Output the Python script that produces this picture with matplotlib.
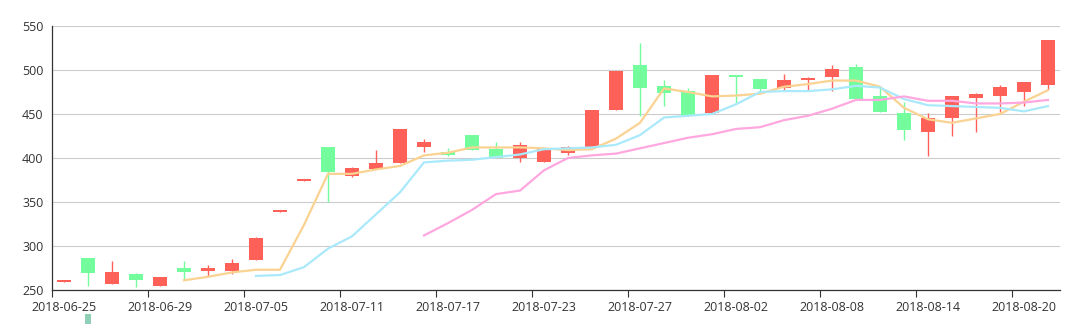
import matplotlib
matplotlib.use("Agg")
import matplotlib.pyplot as plt
import numpy as np

# trading days, 2018-06-25 .. 2018-08-21
dates = [
    "2018-06-25", "2018-06-26", "2018-06-27", "2018-06-28", "2018-06-29",
    "2018-07-02", "2018-07-03", "2018-07-04", "2018-07-05", "2018-07-06",
    "2018-07-09", "2018-07-10", "2018-07-11", "2018-07-12", "2018-07-13",
    "2018-07-16", "2018-07-17", "2018-07-18", "2018-07-19", "2018-07-20",
    "2018-07-23", "2018-07-24", "2018-07-25", "2018-07-26", "2018-07-27",
    "2018-07-30", "2018-07-31", "2018-08-01", "2018-08-02", "2018-08-03",
    "2018-08-06", "2018-08-07", "2018-08-08", "2018-08-09", "2018-08-10",
    "2018-08-13", "2018-08-14", "2018-08-15", "2018-08-16", "2018-08-17",
    "2018-08-20", "2018-08-21",
]

open_ = [259, 286, 257, 268, 255, 275, 272, 272, 284, 339,
         374, 412, 379, 387, 394, 412, 407, 426, 410, 400,
         395, 406, 413, 455, 506, 482, 476, 451, 493, 490,
         480, 489, 492, 503, 470, 451, 430, 445, 468, 470,
         475, 483]
close = [260, 269, 271, 261, 265, 270, 275, 281, 309, 340,
         375, 384, 389, 394, 433, 418, 403, 409, 400, 415,
         411, 412, 454, 499, 480, 474, 448, 494, 492, 478,
         489, 491, 501, 467, 452, 432, 445, 470, 473, 481,
         486, 534]
low = [259, 255, 257, 253, 254, 261, 266, 268, 284, 339,
       374, 350, 378, 387, 394, 407, 402, 409, 400, 396,
       395, 403, 413, 455, 448, 459, 448, 451, 461, 476,
       477, 476, 476, 467, 452, 421, 402, 425, 430, 452,
       459, 477]
high = [260, 286, 283, 269, 265, 283, 278, 285, 310, 340,
        375, 412, 390, 409, 433, 422, 411, 426, 418, 418,
        411, 414, 454, 499, 531, 489, 479, 494, 493, 490,
        495, 492, 506, 507, 481, 464, 451, 470, 474, 483,
        486, 534]

ma5_start = 5
ma5 = [261, 265, 270, 273, 273, 324, 382, 382, 387, 391,
       403, 406, 412, 412, 412, 411, 409, 410, 422, 440,
       479, 475, 470, 471, 473, 481, 484, 488, 488, 481,
       457, 444, 440, 445, 450, 464, 477]
ma10_start = 8
ma10 = [266, 267, 276, 297, 311, 336, 361, 395, 397, 398,
        401, 404, 410, 411, 412, 415, 426, 446, 448, 450,
        461, 475, 476, 476, 478, 482, 480, 467, 460, 459,
        458, 457, 453, 459]
ma20_start = 15
ma20 = [312, 326, 341, 359, 363, 386, 400, 403, 405, 411,
        417, 423, 427, 433, 435, 443, 448, 456, 466, 466,
        470, 465, 465, 462, 462, 463, 466]

vol_idx = [1]
vol_vals = [1.0]

UP = "#ff6159"
DOWN = "#74fd9c"

plt.rcParams["font.family"] = ["Open Sans", "DejaVu Sans"]

fig = plt.figure(figsize=(10.75, 3.24), dpi=100)
ax = fig.add_axes([52 / 1075, 34 / 324, 1008 / 1075, 264 / 324])

x = np.arange(len(dates))
o = np.array(open_, float)
c = np.array(close, float)
colors = [UP if cc >= oo else DOWN for oo, cc in zip(o, c)]
bottoms = np.minimum(o, c)
heights = np.maximum(np.abs(c - o), 2.0)

ax.vlines(x, low, high, colors=colors, linewidth=1, zorder=2)
ax.bar(x, heights, bottom=bottoms, width=0.62, color=colors, zorder=3)

ax.plot(x[ma5_start:ma5_start + len(ma5)], ma5, color="#fad291", lw=1.6, zorder=4)
ax.plot(x[ma10_start:ma10_start + len(ma10)], ma10, color="#aae9fb", lw=1.6, zorder=4)
ax.plot(x[ma20_start:ma20_start + len(ma20)], ma20, color="#ffa7df", lw=1.6, zorder=4)

ax.set_xlim(-0.5, len(dates) - 0.5)
ax.set_ylim(250, 550)
ax.set_yticks(range(250, 551, 50))
ax.grid(axis="y", color="#cccccc", lw=0.8)
ax.set_axisbelow(True)

ax.set_xticks(np.arange(0, len(dates), 4))
ax.set_xticklabels([dates[i] for i in range(0, len(dates), 4)])
ax.set_xticks(np.arange(0, len(dates), 4) - 0.5, minor=True)
ax.tick_params(axis="x", which="major", length=0, pad=8, labelsize=9, labelcolor="#333333")
ax.tick_params(axis="x", which="minor", length=5, width=0.8, color="#333333")
ax.tick_params(axis="y", length=0, pad=6, labelsize=9, labelcolor="#333333")

for side in ("top", "right"):
    ax.spines[side].set_visible(False)
for side in ("left", "bottom"):
    ax.spines[side].set_color("#333333")
    ax.spines[side].set_linewidth(0.9)

# volume grid below, mostly cut off by the figure edge
vax = fig.add_axes([52 / 1075, -40 / 324, 1008 / 1075, 50 / 324])
vax.bar(vol_idx, vol_vals, width=0.28, color="#8ecfb5")
vax.set_xlim(-0.5, len(dates) - 0.5)
vax.set_ylim(0, 1.0)
vax.axis("off")

fig.savefig("out.png", dpi=100)
